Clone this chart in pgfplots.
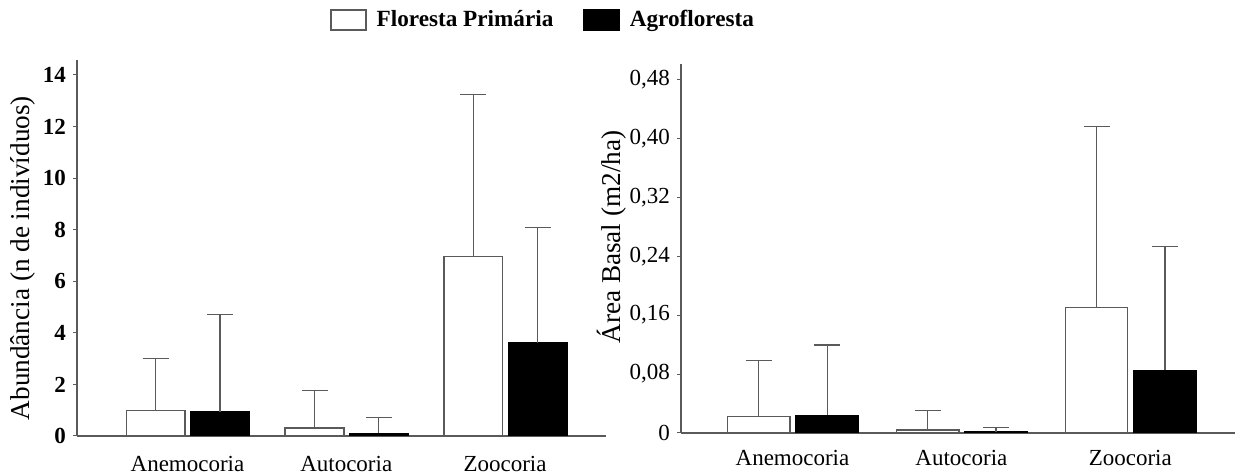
\documentclass[border=0pt]{standalone}
\usepackage{pgfplots}
\pgfplotsset{compat=1.18}
\usepackage{fontspec}
\setmainfont{Liberation Serif}
\definecolor{axgray}{RGB}{90,90,90}
\begin{document}
\begin{tikzpicture}
\useasboundingbox (0,0) rectangle (618.5pt,237.5pt);
\pgfplotsset{
  mybase/.style={
    scale only axis,
    axis x line*=bottom, axis y line*=left,
    axis line style={-, draw=axgray, line width=0.7pt},
    ymin=0,
    xtick={0,1,2},
    xticklabels={Anemocoria,Autocoria,Zoocoria},
    xtick style={draw=none},
    ytick style={draw=axgray, line width=0.5pt},
    tick align=outside,
    major tick length=2pt,
    ybar, bar width=0.37,
    xticklabel style={font=\fontsize{11.5}{13}\selectfont},
    yticklabel style={font=\fontsize{11.5}{13}\selectfont},
    error bars/y dir=plus, error bars/y explicit,
    error bars/error bar style={draw=axgray, line width=0.6pt},
    error bars/error mark options={draw=axgray, line width=0.6pt, mark size=6.5pt, rotate=90},
    legend image code/.code={\draw[#1] (0pt,-5pt) rectangle (17.5pt,5pt);},
  },
  fp/.style={fill=white, draw=axgray, line width=0.7pt, bar shift=-0.2},
  ag/.style={fill=black, draw=black, line width=0.7pt, bar shift=0.205},
}
\begin{axis}[mybase,
  at={(38.5pt,19.5pt)}, anchor=south west,
  width=264.5pt, height=188pt,
  xmin=-0.696, xmax=2.636, ymax=14.58,
  ytick={0,2,4,6,8,10,12,14},
  yticklabels={\textbf{0},\textbf{2},\textbf{4},\textbf{6},\textbf{8},\textbf{10},\textbf{12},\textbf{14}},
  xticklabel style={yshift=-4.5pt},
  ylabel={Abundância (n de indivíduos)},
  every axis y label/.style={at={(axis description cs:-0.102,0.473)}, rotate=90, anchor=center, font=\fontsize{13.6}{15}\selectfont},
  legend style={at={(0.883,1.106)}, anchor=center, draw=none, fill=none,
    legend columns=2, font=\bfseries\fontsize{11.6}{13}\selectfont,
    /tikz/every odd column/.append style={column sep=3pt},
    /tikz/every even column/.append style={column sep=13pt},
    legend cell align=left},
]
\addplot[fp] coordinates {(0,1.0) +- (0,2.02) (1,0.31) +- (0,1.46) (2,6.95) +- (0,6.30)};
\addplot[ag] coordinates {(0,0.93) +- (0,3.79) (1,0.10) +- (0,0.63) (2,3.62) +- (0,4.48)};
\legend{Floresta Primária, Agrofloresta}
\end{axis}
\begin{axis}[mybase,
  at={(340.5pt,21pt)}, anchor=south west,
  width=277pt, height=184.5pt,
  xmin=-0.66, xmax=2.62, ymax=0.5008,
  ytick={0,0.08,0.16,0.24,0.32,0.40,0.48},
  yticklabels={0,{0,08},{0,16},{0,24},{0,32},{0,40},{0,48}},
  xticklabel style={yshift=-3pt},
  ylabel={Área Basal (m2/ha)},
  every axis y label/.style={at={(axis description cs:-0.1245,0.531)}, rotate=90, anchor=center, font=\fontsize{13.6}{15}\selectfont},
]
\addplot[fp] coordinates {(0,0.0226) +- (0,0.0754) (1,0.004) +- (0,0.026) (2,0.170) +- (0,0.2456)};
\addplot[ag] coordinates {(0,0.024) +- (0,0.0955) (1,0.002) +- (0,0.005) (2,0.085) +- (0,0.1676)};
\end{axis}
\end{tikzpicture}
\end{document}
